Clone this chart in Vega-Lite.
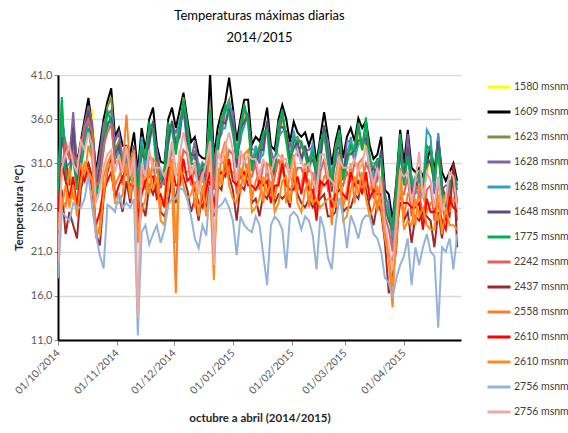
{
"$schema":"https://vega.github.io/schema/vega-lite/v6.json",
"autosize":{"type":"none"},
"padding":{"left":58,"top":75,"right":107,"bottom":93},
"width":403,"height":265,
"background":"white",
"config":{"font":"Lato","view":{"stroke":null}},
"title":{"text":["Temperaturas máximas diarias","2014/2015"],"anchor":"middle","fontSize":13,"fontWeight":"normal","color":"#000000","lineHeight":22,"offset":24},
"data":{"values":[
{"d":"2014-10-01","a":27,"b":28,"c":27.5,"d2":26,"e":27.8,"f":25.5,"g":27.2,"h":25,"i":26.5,"j":24,"k":25.5,"l":23.5,"m":18,"n":20},
{"d":"2014-10-03","a":35,"b":36.5,"c":37,"d2":36,"e":38,"f":34,"g":38.5,"h":30,"i":28,"j":27,"k":31,"l":26,"m":25.5,"n":30.5},
{"d":"2014-10-05","a":31,"b":32.5,"c":30,"d2":33,"e":30.5,"f":31.5,"g":29,"h":33.5,"i":23,"j":26,"k":29,"l":28.5,"m":25,"n":32},
{"d":"2014-10-07","a":30,"b":32,"c":29,"d2":31.5,"e":31,"f":28.5,"g":30,"h":31.5,"i":25.5,"j":30.5,"k":27,"l":26,"m":24.5,"n":33},
{"d":"2014-10-09","a":33.5,"b":35.5,"c":34,"d2":36.8,"e":32,"f":35,"g":31.5,"h":32,"i":24,"j":27,"k":29.5,"l":28.5,"m":26.5,"n":31},
{"d":"2014-10-11","a":29.5,"b":31,"c":28.5,"d2":30.5,"e":30,"f":29,"g":28,"h":31,"i":22.5,"j":26.5,"k":26,"l":25,"m":26,"n":30},
{"d":"2014-10-13","a":32,"b":33.5,"c":31.5,"d2":33,"e":31.5,"f":32.5,"g":30.5,"h":32.5,"i":28,"j":31,"k":30,"l":29,"m":26,"n":33.5},
{"d":"2014-10-15","a":34.5,"b":36,"c":35,"d2":35.5,"e":33.5,"f":34.5,"g":33,"h":35,"i":30,"j":29.5,"k":29,"l":31,"m":27,"n":32.5},
{"d":"2014-10-17","a":37.5,"b":38.4,"c":36.5,"d2":37.5,"e":36,"f":37,"g":35,"h":36,"i":31,"j":33,"k":30.5,"l":30,"m":29.7,"n":34.5},
{"d":"2014-10-19","a":37,"b":35,"c":34,"d2":35.5,"e":33,"f":33.5,"g":32,"h":34.5,"i":29.5,"j":31.5,"k":28,"l":29,"m":26,"n":33},
{"d":"2014-10-21","a":28.5,"b":30,"c":28,"d2":29.5,"e":27.5,"f":28.5,"g":27,"h":28.5,"i":23,"j":22.5,"k":24,"l":23.5,"m":22.9,"n":26.5},
{"d":"2014-10-23","a":31,"b":33,"c":30.5,"d2":32,"e":30.5,"f":30.5,"g":29.5,"h":29,"i":21.7,"j":24,"k":25.5,"l":23,"m":20.6,"n":28},
{"d":"2014-10-25","a":34,"b":36,"c":34.5,"d2":35.5,"e":33.5,"f":33.5,"g":32.5,"h":33,"i":27,"j":29.5,"k":28,"l":27.5,"m":19.1,"n":30.5},
{"d":"2014-10-27","a":36.5,"b":38,"c":37.4,"d2":36.5,"e":35,"f":35.5,"g":37,"h":34.5,"i":30,"j":31,"k":29,"l":30.5,"m":26.3,"n":32},
{"d":"2014-10-29","a":37,"b":39.5,"c":38.5,"d2":37,"e":36.5,"f":36,"g":35.5,"h":35.5,"i":31.5,"j":32,"k":30,"l":31,"m":26,"n":32.5},
{"d":"2014-10-31","a":32.5,"b":34,"c":32.5,"d2":33.5,"e":31.5,"f":32,"g":31.5,"h":31,"i":27.5,"j":28.5,"k":27,"l":26.5,"m":25.5,"n":30},
{"d":"2014-11-02","a":33,"b":35,"c":33.5,"d2":34.5,"e":32.5,"f":33,"g":32,"h":31.5,"i":27.5,"j":29.5,"k":28.5,"l":26.5,"m":27.7,"n":32},
{"d":"2014-11-04","a":31,"b":33,"c":31,"d2":31.5,"e":32,"f":30,"g":31,"h":28.5,"i":25.5,"j":30.5,"k":29.5,"l":27.5,"m":26,"n":30},
{"d":"2014-11-06","a":31.5,"b":33,"c":32.5,"d2":30.5,"e":31,"f":32,"g":32,"h":32.5,"i":29,"j":36.5,"k":30,"l":31,"m":26.5,"n":33},
{"d":"2014-11-08","a":30,"b":32,"c":31,"d2":31,"e":29,"f":29.5,"g":31.5,"h":30,"i":26.5,"j":30.5,"k":28.5,"l":27,"m":26,"n":29.5},
{"d":"2014-11-10","a":32.5,"b":34.5,"c":32,"d2":32.5,"e":33,"f":33,"g":32,"h":29.5,"i":30.5,"j":32.5,"k":28.5,"l":31,"m":27,"n":32},
{"d":"2014-11-12","a":28,"b":30,"c":28.5,"d2":29.5,"e":27.5,"f":28,"g":27,"h":26,"i":24,"j":22,"k":25,"l":23,"m":11.5,"n":13.5},
{"d":"2014-11-14","a":33,"b":35,"c":33,"d2":33.5,"e":34,"f":32,"g":33,"h":30.5,"i":26.5,"j":28.5,"k":27.5,"l":25.5,"m":23.2,"n":31},
{"d":"2014-11-16","a":31,"b":32.5,"c":32,"d2":30,"e":30.5,"f":31.5,"g":31.5,"h":28,"i":25,"j":30,"k":29,"l":27,"m":24,"n":29.5},
{"d":"2014-11-18","a":34,"b":36,"c":35,"d2":35,"e":33,"f":33.5,"g":35.5,"h":32,"i":28.5,"j":27.5,"k":29.5,"l":30.5,"m":21.8,"n":32.5},
{"d":"2014-11-20","a":35,"b":37.3,"c":34.8,"d2":35.3,"e":35.8,"f":35.8,"g":34.8,"h":31,"i":27.5,"j":31.5,"k":29.5,"l":28,"m":23,"n":30.5},
{"d":"2014-11-22","a":31.5,"b":33,"c":31.5,"d2":32.5,"e":30.5,"f":31,"g":30,"h":28,"i":29,"j":31,"k":27,"l":29.5,"m":24,"n":30.5},
{"d":"2014-11-24","a":29.5,"b":31.2,"c":29.2,"d2":29.7,"e":30.2,"f":28.2,"g":29.2,"h":28.5,"i":25.5,"j":26,"k":27.5,"l":24.5,"m":22,"n":30.5},
{"d":"2014-11-26","a":29.5,"b":31,"c":30.5,"d2":28.5,"e":29,"f":30,"g":30,"h":29,"i":25,"j":27,"k":26,"l":24,"m":23.5,"n":29.5},
{"d":"2014-11-28","a":34,"b":36,"c":35,"d2":35,"e":33,"f":33.5,"g":35.5,"h":29.5,"i":26.5,"j":31.5,"k":30.5,"l":28.5,"m":26.3,"n":31},
{"d":"2014-11-30","a":35,"b":37.3,"c":34.8,"d2":35.3,"e":35.8,"f":35.8,"g":34.8,"h":33,"i":29.5,"j":28.5,"k":30.5,"l":31.5,"m":27,"n":33.5},
{"d":"2014-12-02","a":33,"b":35,"c":33.5,"d2":34.5,"e":32.5,"f":33,"g":32,"h":30,"i":26.5,"j":16.3,"k":28.5,"l":22,"m":27,"n":29.5},
{"d":"2014-12-04","a":35,"b":37,"c":35,"d2":35.5,"e":36,"f":34,"g":35,"h":29.5,"i":30.5,"j":32.5,"k":28.5,"l":31,"m":28.2,"n":32},
{"d":"2014-12-06","a":37.5,"b":39,"c":38.5,"d2":36.5,"e":37,"f":38,"g":38,"h":32.5,"i":29.5,"j":30,"k":31.5,"l":28.5,"m":28,"n":34.5},
{"d":"2014-12-08","a":34,"b":36,"c":35,"d2":35,"e":33,"f":33.5,"g":35.5,"h":32,"i":28,"j":30,"k":29,"l":27,"m":27,"n":32.5},
{"d":"2014-12-10","a":31,"b":33.4,"c":30.9,"d2":31.4,"e":31.9,"f":31.9,"g":30.9,"h":28.5,"i":25.5,"j":30.5,"k":29.5,"l":27.5,"m":25,"n":30},
{"d":"2014-12-12","a":32,"b":34,"c":32.5,"d2":33.5,"e":31.5,"f":32,"g":31,"h":30.5,"i":27,"j":26,"k":28,"l":29,"m":22.5,"n":31},
{"d":"2014-12-14","a":30,"b":32,"c":30,"d2":30.5,"e":31,"f":29,"g":30,"h":28,"i":24.5,"j":28.5,"k":26.5,"l":25,"m":21.4,"n":27.5},
{"d":"2014-12-16","a":30.1,"b":31.6,"c":31.1,"d2":29.1,"e":29.6,"f":30.6,"g":30.6,"h":27,"i":28,"j":30,"k":26,"l":28.5,"m":24,"n":29.5},
{"d":"2014-12-18","a":29.5,"b":31.5,"c":30.5,"d2":30.5,"e":28.5,"f":29,"g":31,"h":29,"i":26,"j":26.5,"k":28,"l":25,"m":22.8,"n":31},
{"d":"2014-12-20","a":36,"b":41.3,"c":37.5,"d2":37,"e":36.5,"f":36.5,"g":37,"h":33,"i":29,"j":33.5,"k":30,"l":28,"m":28.5,"n":33.5},
{"d":"2014-12-22","a":29.5,"b":31.6,"c":30.1,"d2":31.1,"e":29.1,"f":29.6,"g":28.6,"h":28,"i":25,"j":20.5,"k":26,"l":17.8,"m":25.5,"n":19.5},
{"d":"2014-12-24","a":33,"b":35,"c":33,"d2":33.5,"e":34,"f":32,"g":33,"h":32,"i":28.5,"j":27.5,"k":29.5,"l":30.5,"m":26,"n":32.5},
{"d":"2014-12-26","a":35.3,"b":36.8,"c":36.3,"d2":34.3,"e":34.8,"f":35.8,"g":35.8,"h":31.5,"i":28,"j":32,"k":30,"l":28.5,"m":26.3,"n":31},
{"d":"2014-12-28","a":36,"b":38,"c":37,"d2":37,"e":35,"f":35.5,"g":37.5,"h":30.5,"i":31.5,"j":33.5,"k":29.5,"l":32,"m":27,"n":33},
{"d":"2014-12-30","a":37.5,"b":40.7,"c":38.2,"d2":37.5,"e":38,"f":37,"g":36.5,"h":32.5,"i":29.5,"j":30,"k":31.5,"l":28.5,"m":26,"n":34.5},
{"d":"2015-01-01","a":35,"b":37.3,"c":35.8,"d2":36.8,"e":34.8,"f":35.3,"g":34.3,"h":32,"i":28,"j":30,"k":29,"l":27,"m":24.5,"n":32.5},
{"d":"2015-01-03","a":31.5,"b":33.5,"c":31.5,"d2":32,"e":32.5,"f":30.5,"g":31.5,"h":27.5,"i":24.5,"j":29.5,"k":28.5,"l":26.5,"m":20.6,"n":29},
{"d":"2015-01-05","a":34.5,"b":36,"c":35.5,"d2":33.5,"e":34,"f":35,"g":35,"h":32,"i":28.5,"j":27.5,"k":29.5,"l":30.5,"m":25,"n":32.5},
{"d":"2015-01-07","a":36.2,"b":38.2,"c":37.2,"d2":37.2,"e":35.2,"f":35.7,"g":37.7,"h":31.5,"i":28,"j":32,"k":30,"l":28.5,"m":24,"n":31},
{"d":"2015-01-09","a":35.5,"b":38.2,"c":35.7,"d2":36.2,"e":36.7,"f":36.7,"g":35.7,"h":29.5,"i":30.5,"j":32.5,"k":28.5,"l":31,"m":23.5,"n":32},
{"d":"2015-01-11","a":31,"b":33.1,"c":31.6,"d2":32.6,"e":30.6,"f":31.1,"g":30.1,"h":29.5,"i":26.5,"j":27,"k":28.5,"l":25.5,"m":23.2,"n":31.5},
{"d":"2015-01-13","a":32,"b":34,"c":32,"d2":32.5,"e":33,"f":31,"g":32,"h":31,"i":27,"j":29,"k":28,"l":26,"m":25,"n":31.5},
{"d":"2015-01-15","a":32,"b":33.5,"c":33,"d2":31,"e":31.5,"f":32.5,"g":32.5,"h":28,"i":25,"j":30,"k":29,"l":27,"m":24,"n":29.5},
{"d":"2015-01-17","a":33,"b":35,"c":34,"d2":34,"e":32,"f":32.5,"g":34.5,"h":31,"i":27.5,"j":26.5,"k":28.5,"l":29.5,"m":20.6,"n":31.5},
{"d":"2015-01-19","a":35,"b":37.3,"c":34.8,"d2":35.3,"e":35.8,"f":35.8,"g":34.8,"h":30.5,"i":27,"j":31,"k":29,"l":27.5,"m":17.2,"n":30},
{"d":"2015-01-21","a":31,"b":33,"c":31.5,"d2":32.5,"e":30.5,"f":31,"g":30,"h":27.5,"i":28.5,"j":30.5,"k":26.5,"l":29,"m":24,"n":30},
{"d":"2015-01-23","a":30.5,"b":32.5,"c":30.5,"d2":31,"e":31.5,"f":29.5,"g":30.5,"h":29.5,"i":26.5,"j":27,"k":28.5,"l":25.5,"m":25,"n":31.5},
{"d":"2015-01-25","a":34.5,"b":36,"c":35.5,"d2":33.5,"e":34,"f":35,"g":35,"h":31.5,"i":27.5,"j":29.5,"k":28.5,"l":26.5,"m":24.5,"n":32},
{"d":"2015-01-27","a":35.6,"b":37.6,"c":36.6,"d2":36.6,"e":34.6,"f":35.1,"g":37.1,"h":30,"i":27,"j":32,"k":31,"l":29,"m":23.5,"n":31.5},
{"d":"2015-01-29","a":33.5,"b":36.1,"c":33.6,"d2":34.1,"e":34.6,"f":34.6,"g":33.6,"h":31,"i":27.5,"j":26.5,"k":28.5,"l":29.5,"m":19.1,"n":31.5},
{"d":"2015-01-31","a":31,"b":33.4,"c":31.9,"d2":32.9,"e":30.9,"f":31.4,"g":30.4,"h":29.5,"i":26,"j":30,"k":28,"l":26.5,"m":25,"n":29},
{"d":"2015-02-02","a":33.5,"b":35.7,"c":33.7,"d2":34.2,"e":34.7,"f":32.7,"g":33.7,"h":29,"i":30,"j":32,"k":28,"l":30.5,"m":25.5,"n":31.5},
{"d":"2015-02-04","a":33,"b":34.5,"c":34,"d2":32,"e":32.5,"f":33.5,"g":33.5,"h":30.5,"i":27.5,"j":28,"k":29.5,"l":26.5,"m":25,"n":32.5},
{"d":"2015-02-06","a":32,"b":34,"c":33,"d2":33,"e":31,"f":31.5,"g":33.5,"h":30.5,"i":26.5,"j":28.5,"k":27.5,"l":25.5,"m":23.5,"n":31},
{"d":"2015-02-08","a":32,"b":34.5,"c":32,"d2":32.5,"e":33,"f":33,"g":32,"h":29,"i":26,"j":31,"k":30,"l":28,"m":25,"n":30.5},
{"d":"2015-02-10","a":30.5,"b":33,"c":31.5,"d2":32.5,"e":30.5,"f":31,"g":30,"h":30.5,"i":27,"j":26,"k":28,"l":29,"m":24.5,"n":31},
{"d":"2015-02-12","a":32,"b":34.4,"c":32.4,"d2":32.9,"e":33.4,"f":31.4,"g":32.4,"h":29.5,"i":26,"j":30,"k":28,"l":26.5,"m":22.9,"n":29},
{"d":"2015-02-14","a":29.5,"b":31,"c":30.5,"d2":28.5,"e":29,"f":30,"g":30,"h":25.5,"i":26.5,"j":28.5,"k":24.5,"l":27,"m":19,"n":28},
{"d":"2015-02-16","a":32,"b":34,"c":33,"d2":33,"e":31,"f":31.5,"g":33.5,"h":30,"i":27,"j":27.5,"k":29,"l":26,"m":25,"n":32},
{"d":"2015-02-18","a":34,"b":36.8,"c":34.3,"d2":34.8,"e":35.3,"f":35.3,"g":34.3,"h":31.5,"i":27.5,"j":29.5,"k":28.5,"l":26.5,"m":23.5,"n":32},
{"d":"2015-02-20","a":31.5,"b":34,"c":32.5,"d2":33.5,"e":31.5,"f":32,"g":31,"h":28,"i":25,"j":30,"k":29,"l":27,"m":20.3,"n":29.5},
{"d":"2015-02-22","a":28.5,"b":30.8,"c":28.8,"d2":29.3,"e":29.8,"f":27.8,"g":28.8,"h":28.5,"i":25,"j":24,"k":26,"l":27,"m":19,"n":29},
{"d":"2015-02-24","a":32,"b":33.5,"c":33,"d2":31,"e":31.5,"f":32.5,"g":32.5,"h":29,"i":25.5,"j":29.5,"k":27.5,"l":26,"m":24,"n":28.5},
{"d":"2015-02-26","a":33.3,"b":35.3,"c":34.3,"d2":34.3,"e":32.3,"f":32.8,"g":34.8,"h":29,"i":30,"j":32,"k":28,"l":30.5,"m":27.1,"n":31.5},
{"d":"2015-02-28","a":29,"b":31.6,"c":29.1,"d2":29.6,"e":30.1,"f":30.1,"g":29.1,"h":28.5,"i":25.5,"j":26,"k":27.5,"l":24.5,"m":25,"n":30.5},
{"d":"2015-03-02","a":31.5,"b":34,"c":32.5,"d2":33.5,"e":31.5,"f":32,"g":31,"h":30,"i":26,"j":28,"k":27,"l":25,"m":21.4,"n":30.5},
{"d":"2015-03-04","a":32.5,"b":35,"c":33,"d2":33.5,"e":34,"f":32,"g":33,"h":29,"i":26,"j":31,"k":30,"l":28,"m":25.1,"n":30.5},
{"d":"2015-03-06","a":32,"b":33.5,"c":33,"d2":31,"e":31.5,"f":32.5,"g":32.5,"h":31,"i":27.5,"j":26.5,"k":28.5,"l":29.5,"m":24,"n":31.5},
{"d":"2015-03-08","a":34.1,"b":36.1,"c":35.1,"d2":35.1,"e":33.1,"f":33.6,"g":35.6,"h":30.5,"i":27,"j":31,"k":29,"l":27.5,"m":22.5,"n":30},
{"d":"2015-03-10","a":32.5,"b":35,"c":32.5,"d2":33,"e":33.5,"f":33.5,"g":32.5,"h":28.5,"i":29.5,"j":31.5,"k":27.5,"l":30,"m":24.5,"n":31},
{"d":"2015-03-12","a":33.5,"b":35.8,"c":34.3,"d2":35.3,"e":33.3,"f":33.8,"g":36.2,"h":31,"i":28,"j":28.5,"k":30,"l":27,"m":25.1,"n":33},
{"d":"2015-03-14","a":30.5,"b":33,"c":31,"d2":31.5,"e":32,"f":30,"g":31,"h":30,"i":26,"j":28,"k":27,"l":25,"m":25,"n":30.5},
{"d":"2015-03-16","a":30,"b":31.5,"c":31,"d2":29,"e":29.5,"f":30.5,"g":30.5,"h":27,"i":24,"j":29,"k":28,"l":26,"m":23,"n":28.5},
{"d":"2015-03-18","a":30,"b":32,"c":31,"d2":31,"e":29,"f":29.5,"g":31.5,"h":30,"i":26.5,"j":25.5,"k":27.5,"l":28.5,"m":22.5,"n":30.5},
{"d":"2015-03-20","a":31.5,"b":34,"c":31.5,"d2":32,"e":32.5,"f":32.5,"g":31.5,"h":29,"i":25.5,"j":29.5,"k":27.5,"l":26,"m":21,"n":28.5},
{"d":"2015-03-22","a":25.5,"b":28,"c":26.5,"d2":27.5,"e":25.5,"f":26,"g":25,"h":25,"i":22,"j":23,"k":23.5,"l":22.5,"m":18,"n":24},
{"d":"2015-03-24","a":25,"b":27.5,"c":25.5,"d2":26,"e":26.5,"f":24.5,"g":25.5,"h":23.5,"i":16.3,"j":20,"k":21,"l":20.5,"m":17.5,"n":21.5},
{"d":"2015-03-26","a":23,"b":24.5,"c":24,"d2":22,"e":22.5,"f":23.5,"g":23.5,"h":21,"i":18,"j":14.7,"k":19.5,"l":17,"m":15.8,"n":19},
{"d":"2015-03-28","a":27.5,"b":29,"c":28.5,"d2":26.5,"e":27,"f":28,"g":28,"h":25,"i":21.5,"j":25.5,"k":23.5,"l":22,"m":18,"n":24.5},
{"d":"2015-03-30","a":32.8,"b":34.8,"c":33.8,"d2":33.8,"e":31.8,"f":32.3,"g":34.3,"h":27.5,"i":28.5,"j":30.5,"k":26.5,"l":29,"m":19.5,"n":30},
{"d":"2015-04-01","a":28.5,"b":31,"c":28.5,"d2":29,"e":29.5,"f":29.5,"g":28.5,"h":27.5,"i":24.5,"j":25,"k":26.5,"l":23.5,"m":20.5,"n":29.5},
{"d":"2015-04-03","a":32.5,"b":34.8,"c":33.3,"d2":34.3,"e":32.3,"f":32.8,"g":31.8,"h":29.5,"i":25.5,"j":27.5,"k":26.5,"l":24.5,"m":22.5,"n":30},
{"d":"2015-04-05","a":28.5,"b":30.5,"c":28.5,"d2":29,"e":29.5,"f":27.5,"g":28.5,"h":25,"i":22,"j":27,"k":26,"l":24,"m":17.2,"n":26.5},
{"d":"2015-04-07","a":28.5,"b":30,"c":29.5,"d2":27.5,"e":28,"f":29,"g":29,"h":28.5,"i":25,"j":24,"k":26,"l":27,"m":21.5,"n":29},
{"d":"2015-04-09","a":28.5,"b":30.5,"c":29.5,"d2":29.5,"e":27.5,"f":28,"g":30,"h":28,"i":24.5,"j":28.5,"k":26.5,"l":25,"m":19.5,"n":32.3},
{"d":"2015-04-11","a":27,"b":29.5,"c":27,"d2":27.5,"e":28,"f":28,"g":27,"h":24.5,"i":25.5,"j":27.5,"k":23.5,"l":26,"m":21.5,"n":27},
{"d":"2015-04-13","a":30,"b":31,"c":30.5,"d2":32,"e":34.8,"f":31.5,"g":33,"h":28,"i":25,"j":25.5,"k":27,"l":24,"m":23,"n":30},
{"d":"2015-04-15","a":31,"b":33,"c":31.5,"d2":33,"e":34,"f":31,"g":32.5,"h":28.5,"i":24.5,"j":26.5,"k":25.5,"l":23.5,"m":21,"n":29},
{"d":"2015-04-17","a":28.5,"b":30,"c":29.5,"d2":27.5,"e":28,"f":29,"g":29,"h":24.5,"i":21.5,"j":26.5,"k":25.5,"l":23.5,"m":20.5,"n":26},
{"d":"2015-04-19","a":32.5,"b":34,"c":33,"d2":34.4,"e":34.4,"f":33.5,"g":32.5,"h":29,"i":25.5,"j":24.5,"k":26.5,"l":27.5,"m":12.4,"n":29.5},
{"d":"2015-04-21","a":27.5,"b":30,"c":27.5,"d2":28,"e":28.5,"f":28.5,"g":27.5,"h":26,"i":22.5,"j":26.5,"k":24.5,"l":23,"m":21.5,"n":25.5},
{"d":"2015-04-23","a":27,"b":29,"c":27.5,"d2":28.5,"e":26.5,"f":27,"g":26,"h":24.5,"i":25.5,"j":27.5,"k":23.5,"l":26,"m":21,"n":27},
{"d":"2015-04-25","a":28,"b":30,"c":28,"d2":28.5,"e":29,"f":27,"g":28,"h":28,"i":25,"j":25.5,"k":27,"l":24,"m":22.5,"n":30},
{"d":"2015-04-27","a":29.5,"b":31,"c":30.5,"d2":28.5,"e":29,"f":30,"g":30,"h":29,"i":31,"j":27,"k":26,"l":24,"m":19,"n":29.5},
{"d":"2015-04-29","a":27,"b":29,"c":28,"d2":28,"e":28.9,"f":26.5,"g":28.5,"h":24.5,"i":21.5,"j":26.5,"k":25.5,"l":23.5,"m":23,"n":26}
]},
"transform":[{"fold":["a","b","c","d2","e","f","g","h","i","j","k","l","m","n"],"as":["s","t"]}],
"mark":{"type":"line","strokeWidth":2,"clip":true},
"encoding":{
"x":{"field":"d","type":"temporal",
 "scale":{"type":"utc","domain":[{"year":2014,"month":10,"date":1,"utc":true},{"year":2015,"month":5,"date":1,"utc":true}]},
 "axis":{"title":"octubre a abril (2014/2015)","titleFontSize":11.5,"titleFontWeight":"bold","titleColor":"#262626","titlePadding":16,
  "values":[{"year":2014,"month":10,"date":1,"utc":true},{"year":2014,"month":11,"date":1,"utc":true},{"year":2014,"month":12,"date":1,"utc":true},{"year":2015,"month":1,"date":1,"utc":true},{"year":2015,"month":2,"date":1,"utc":true},{"year":2015,"month":3,"date":1,"utc":true},{"year":2015,"month":4,"date":1,"utc":true}],
  "labelExpr":"utcFormat(datum.value, '%d/%m/%Y')","labelAngle":-45,"labelAlign":"right","labelBaseline":"middle","labelFontSize":10.5,"labelColor":"#595959","labelPadding":6,
  "grid":false,"domainColor":"#000000","domainWidth":2,"tickColor":"#888888","tickSize":5}},
"y":{"field":"t","type":"quantitative",
 "scale":{"domain":[11,41],"nice":false,"zero":false},
 "axis":{"title":"Temperatura (ºC)","titleFontSize":11.5,"titleFontWeight":"bold","titleColor":"#262626","titlePadding":6,
  "values":[11,16,21,26,31,36,41],"labelExpr":"replace(format(datum.value, '.1f'), '.', ',')","labelFontSize":11,"labelColor":"#595959",
  "grid":true,"gridColor":"#D9D9D9","gridWidth":1.5,"domainColor":"#000000","domainWidth":2,"tickColor":"#888888","tickSize":4}},
"color":{"field":"s","type":"nominal",
 "scale":{"domain":["a","b","c","d2","e","f","g","h","i","j","k","l","m","n"],
  "range":["#FFFF00","#000000","#77933C","#8064A2","#31A0C0","#604A7B","#00B050","#E0605A","#A0282A","#FF7F27","#FF0000","#FF8C1A","#95B3D7","#E8ABA8"]},
 "legend":{"title":null,"orient":"none","legendX":428,"legendY":-1,"padding":0,"symbolType":"stroke","symbolSize":529,"symbolStrokeWidth":3,"labelFontSize":10.5,"labelColor":"#404040","rowPadding":6,"labelOffset":2,
  "labelExpr":"['1580 msnm','1609 msnm','1623 msnm','1628 msnm','1628 msnm','1648 msnm','1775 msnm','2242 msnm','2437 msnm','2558 msnm','2610 msnm','2610 msnm','2756 msnm','2756 msnm'][indexof(['a','b','c','d2','e','f','g','h','i','j','k','l','m','n'], datum.label)]"}}
}
}
